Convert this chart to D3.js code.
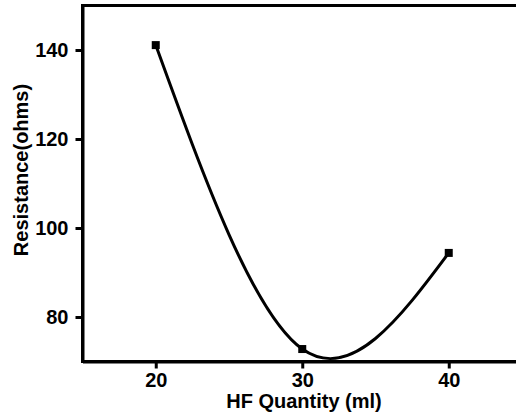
<!DOCTYPE html>
<html>
<head>
<meta charset="utf-8">
<script src="https://cdn.jsdelivr.net/npm/d3@7"></script>
<style>
  body { margin: 0; background: #fff; }
  svg { display: block; }
  text { font-family: "Liberation Sans", Arial, sans-serif; font-weight: bold; fill: #000; }
</style>
</head>
<body>
<div id="chart"></div>
<script>
const w = 516;
const h = 416;
const margin = { top: 5.5, left: 82.5, bottom: 54.5 };

// data
const hfQuantity = [20, 30, 40];
const resistance = [141.1, 72.8, 94.4];
const xTicks = [20, 30, 40];
const yTicks = [80, 100, 120, 140];

let x = d3
  .scaleLinear()
  .domain([15, 45])
  .range([margin.left, 522]);
let y = d3
  .scaleLinear()
  .domain([70, 150])
  .range([h - margin.bottom, margin.top]);

let svg = d3
  .select("#chart")
  .append("svg")
  .attr("width", w)
  .attr("height", h);

let points = hfQuantity.map((d, i) => ({ x: d, y: resistance[i] }));

// frame (right side runs off the picture)
svg
  .append("rect")
  .attr("x", x(15))
  .attr("y", y(150))
  .attr("width", x(45) - x(15))
  .attr("height", y(70) - y(150))
  .attr("fill", "none")
  .attr("stroke", "black")
  .attr("stroke-width", 3);

let xAxis = svg
  .append("g")
  .attr("transform", `translate(0,${y(70)})`)
  .call(d3.axisBottom(x).tickValues(xTicks).tickSize(7).tickSizeOuter(0).tickPadding(4));
let yAxis = svg
  .append("g")
  .attr("transform", `translate(${x(15)},0)`)
  .call(d3.axisLeft(y).tickValues(yTicks).tickSize(7).tickSizeOuter(0).tickPadding(7));

[xAxis, yAxis].forEach(g => {
  g.attr("font-size", 20).attr("font-family", null);
  g.select(".domain").attr("stroke-width", 3);
  g.selectAll(".tick line").attr("stroke-width", 3);
});

let line = d3
  .line()
  .x(d => x(d.x))
  .y(d => y(d.y))
  .curve(d3.curveNatural);

svg
  .append("path")
  .datum(points)
  .attr("d", line)
  .attr("fill", "none")
  .attr("stroke", "black")
  .attr("stroke-width", 3);

svg
  .selectAll("rect.pt")
  .data(points)
  .enter()
  .append("rect")
  .attr("class", "pt")
  .attr("x", d => x(d.x) - 4)
  .attr("y", d => y(d.y) - 4)
  .attr("width", 8)
  .attr("height", 8)
  .attr("fill", "black");

svg
  .append("text")
  .text("HF Quantity (ml)")
  .attr("x", 304)
  .attr("y", 408)
  .attr("text-anchor", "middle")
  .attr("font-size", 20);

svg
  .append("text")
  .text("Resistance(ohms)")
  .attr("transform", "translate(28,170) rotate(-90)")
  .attr("text-anchor", "middle")
  .attr("font-size", 20);
</script>
</body>
</html>
